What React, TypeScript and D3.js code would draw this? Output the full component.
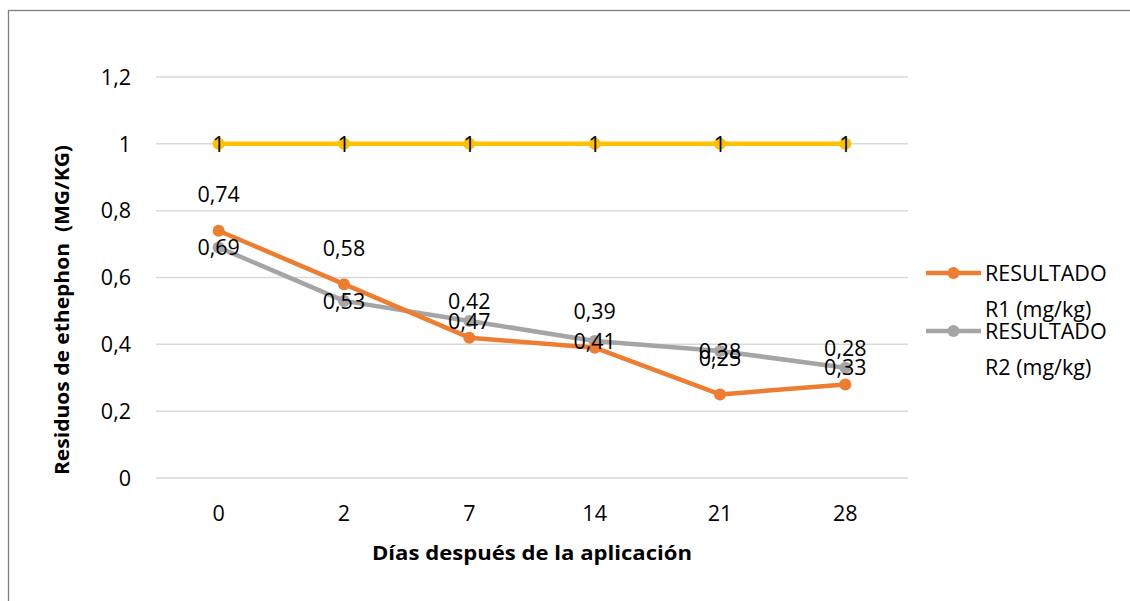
import React from 'react';
import * as d3 from 'd3';

// datos
const dias = ['0', '2', '7', '14', '21', '28'];
const resultadoR1 = [0.74, 0.58, 0.42, 0.39, 0.25, 0.28];
const resultadoR2 = [0.69, 0.53, 0.47, 0.41, 0.38, 0.33];
const limite = [1, 1, 1, 1, 1, 1];
const yTicks = [0, 0.2, 0.4, 0.6, 0.8, 1, 1.2];
const legendNames = [['RESULTADO', 'R1 (mg/kg)'], ['RESULTADO', 'R2 (mg/kg)']];

const W = 1130;
const H = 601;
const FONT = '"Open Sans", "Noto Sans", sans-serif';
const FS = 21.5;

const fmt = (v: number) => String(v).replace('.', ',');

export default function App() {
  const x = d3.scaleBand().domain(dias).range([156, 908]);
  const y = d3.scaleLinear().domain([0, 1.2]).range([478, 77]);
  const cx = (d: string) => (x(d) as number) + x.bandwidth() / 2;

  const line = d3.line<number>()
    .x((_, i) => cx(dias[i]))
    .y(v => y(v));

  const series = [
    { values: limite, color: '#FFC000', labelDy: 0 },
    { values: resultadoR2, color: '#A5A5A5', labelDy: 0 },
    { values: resultadoR1, color: '#ED7D31', labelDy: -36 },
  ];

  return (
    <svg width={W} height={H} style={{ position: 'absolute', left: 0, top: 0, display: 'block', background: '#fff' }}
      fontFamily={FONT}>
      <rect x={8.5} y={10.5} width={W + 10} height={H + 10} fill="#fff" stroke="#7f7f7f" strokeWidth={1.3} />

      {/* rejilla */}
      {yTicks.map(t => (
        <g key={t}>
          <line x1={156} x2={908} y1={y(t)} y2={y(t)} stroke="#d9d9d9" strokeWidth={1.5} />
          <text x={131} y={y(t)} dy="0.36em" textAnchor="end" fontSize={FS} fill="#000">{fmt(t)}</text>
        </g>
      ))}

      {dias.map(d => (
        <text key={d} x={cx(d)} y={513} dy="0.36em" textAnchor="middle" fontSize={FS} fill="#000">{d}</text>
      ))}

      {/* series */}
      {series.map((s, k) => (
        <g key={k}>
          <path d={line(s.values) as string} fill="none" stroke={s.color} strokeWidth={4.5} strokeLinejoin="round" />
          {s.values.map((v, i) => (
            <circle key={i} cx={cx(dias[i])} cy={y(v)} r={6} fill={s.color} />
          ))}
        </g>
      ))}

      {/* etiquetas de datos */}
      {series.map((s, k) => (
        <g key={'l' + k}>
          {s.values.map((v, i) => (
            <text key={i} x={cx(dias[i])} y={y(v) + s.labelDy} dy="0.36em" textAnchor="middle" fontSize={FS} fill="#000">{fmt(v)}</text>
          ))}
        </g>
      ))}

      {/* títulos de ejes */}
      <text x={532} y={553} dy="0.36em" textAnchor="middle" fontSize={20} fontWeight="bold" fill="#000"
        textLength={320} lengthAdjust="spacingAndGlyphs">Días después de la aplicación</text>
      <text transform="translate(62,310) rotate(-90)" dy="0.36em" textAnchor="middle" fontSize={19} fontWeight="bold" fill="#000"
        xmlSpace="preserve" textLength={330} lengthAdjust="spacingAndGlyphs">Residuos de ethephon  (MG/KG)</text>

      {/* leyenda */}
      {[{ color: '#ED7D31', yy: 273 }, { color: '#A5A5A5', yy: 331 }].map((l, i) => (
        <g key={i}>
          <line x1={926} x2={981} y1={l.yy} y2={l.yy} stroke={l.color} strokeWidth={4.5} />
          <circle cx={953.5} cy={l.yy} r={6} fill={l.color} />
          <text x={985} y={l.yy} dy="0.36em" fontSize={FS} fill="#000">{legendNames[i][0]}</text>
          <text x={985} y={l.yy + 36} dy="0.36em" fontSize={FS} fill="#000">{legendNames[i][1]}</text>
        </g>
      ))}
    </svg>
  );
}
